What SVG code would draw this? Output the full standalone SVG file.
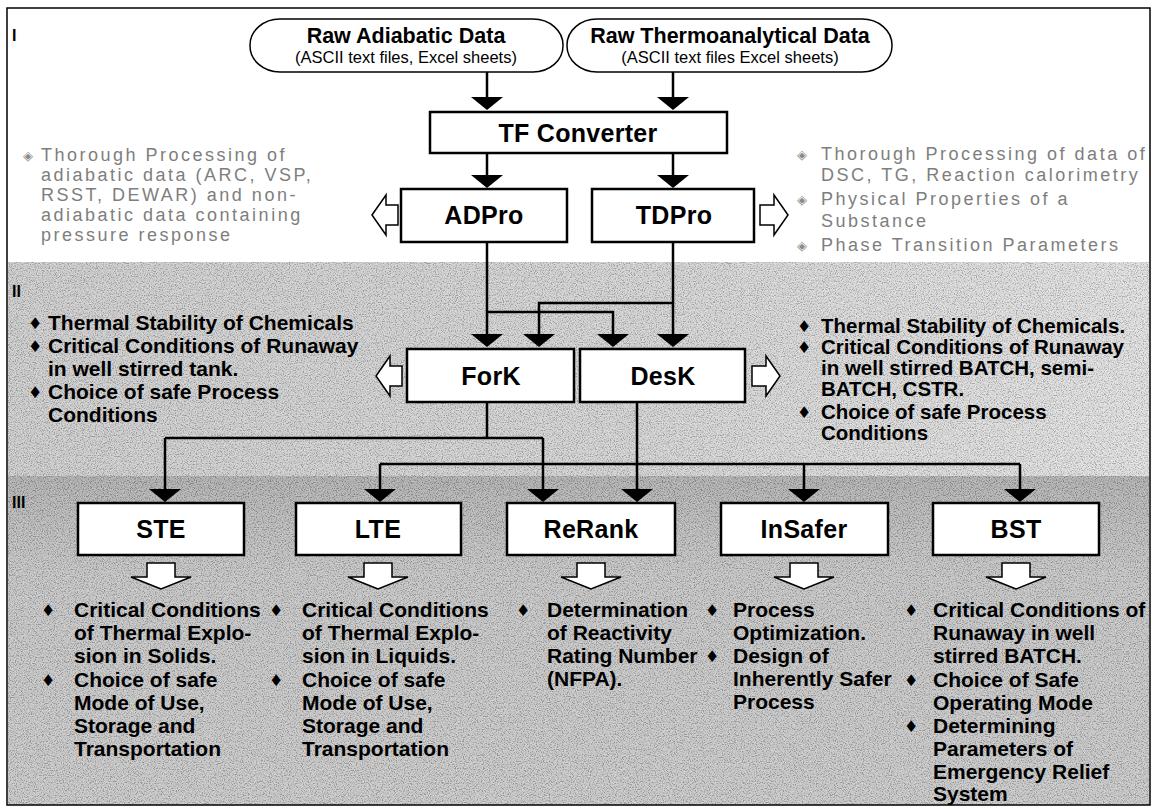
<svg xmlns="http://www.w3.org/2000/svg" xmlns:xlink="http://www.w3.org/1999/xlink" width="1157" height="809" viewBox="0 0 1157 809">
<style>
.node{font-family:"Liberation Sans",Arial,sans-serif;font-weight:bold;font-size:25px;letter-spacing:0.3px;text-anchor:middle;fill:#000}
.box{fill:#fff;stroke:#000;stroke-width:2.5}
.raw{fill:#fff;stroke:#000;stroke-width:1.5}
.rt{font-family:"Liberation Sans",Arial,sans-serif;font-weight:bold;font-size:21.5px;text-anchor:middle}
.rs{font-family:"Liberation Sans",Arial,sans-serif;font-size:16.5px;text-anchor:middle}
.g{font-family:"Liberation Sans",Arial,sans-serif;font-size:18px;letter-spacing:2.5px;fill:#7e7e7e}
.gb{font-family:"DejaVu Sans",sans-serif;font-size:13px;fill:#8a8a8a}
.b{font-family:"Liberation Sans",Arial,sans-serif;font-weight:bold;font-size:21px;fill:#000}
.br{font-family:"Liberation Sans",Arial,sans-serif;font-weight:bold;font-size:20.5px;fill:#000}
.bb{font-family:"DejaVu Sans",sans-serif;font-size:16px;fill:#000}
.lab{font-family:"Liberation Sans",Arial,sans-serif;font-weight:bold;font-size:16px}
.con{fill:none;stroke:#000;stroke-width:2.5}
.hol{fill:#fff;stroke:#000;stroke-width:1.5;stroke-linejoin:miter}
</style>
<defs>
<path id="ah" d="M0,0 L-16,-13 L16,-13 Z" fill="#000"/>
<path id="hl" d="M0,0 L14,-20 L14,-10 L26,-10 L26,10 L14,10 L14,20 Z"/>
<path id="hr" d="M0,0 L-14,-20 L-14,-10 L-28,-10 L-28,10 L-14,10 L-14,20 Z"/>
<path id="hd" d="M0,0 L-30,-12 L-14,-12 L-14,-26 L14,-26 L14,-12 L30,-12 Z"/>
<linearGradient id="g2" x1="0" y1="0" x2="1" y2="0">
<stop offset="0" stop-color="#cbcbcb"/><stop offset="0.55" stop-color="#d2d2d2"/><stop offset="1" stop-color="#e2e2e2"/>
</linearGradient>
<linearGradient id="g3" x1="0" y1="0" x2="0" y2="1">
<stop offset="0" stop-color="#a9a9a9"/><stop offset="0.1" stop-color="#b3b3b3"/><stop offset="0.3" stop-color="#c2c2c2"/><stop offset="1" stop-color="#c6c6c6"/>
</linearGradient>
<filter id="grain" x="0" y="0" width="1" height="1">
<feTurbulence type="fractalNoise" baseFrequency="0.85" numOctaves="2" seed="7"/>
<feColorMatrix type="matrix" values="3 0 0 0 -1  3 0 0 0 -1  3 0 0 0 -1  0 0 0 0 1"/>
</filter>
</defs>

<g id="background">
<rect x="0" y="0" width="1157" height="809" fill="#fff"/>
<rect x="8" y="262" width="1141" height="214" fill="url(#g2)"/>
<rect x="8" y="476" width="1141" height="329" fill="url(#g3)"/>
<rect x="8" y="262" width="1141" height="543" filter="url(#grain)" opacity="0.22"/>
<rect x="7" y="8" width="1143" height="797" fill="none" stroke="#000" stroke-width="1.5"/>
<text class="lab" x="12" y="41">I</text>
<text class="lab" x="12" y="297">II</text>
<text class="lab" x="12" y="508">III</text>
</g>

<g id="connectors">
<path class="con" d="M487,72 V98 M673,72 V98 M487,153 V176 M673,153 V176"/>
<path class="con" d="M487,242 V335 M487,312 H613 V335 M673,242 V335 M673,303 H539 V335"/>
<path class="con" d="M487,402 V438 M165,438 H543 M165,438 V490 M543,438 V490"/>
<path class="con" d="M637,402 V490 M380,464 H1020 M380,464 V490 M804,464 V490 M1020,464 V490"/>
<use xlink:href="#ah" x="487" y="110"/><use xlink:href="#ah" x="673" y="110"/>
<use xlink:href="#ah" x="487" y="188"/><use xlink:href="#ah" x="673" y="188"/>
<use xlink:href="#ah" x="487" y="347"/><use xlink:href="#ah" x="539" y="347"/>
<use xlink:href="#ah" x="613" y="347"/><use xlink:href="#ah" x="673" y="347"/>
<use xlink:href="#ah" x="165" y="502"/><use xlink:href="#ah" x="380" y="502"/>
<use xlink:href="#ah" x="543" y="502"/><use xlink:href="#ah" x="637" y="502"/>
<use xlink:href="#ah" x="804" y="502"/><use xlink:href="#ah" x="1020" y="502"/>
<use xlink:href="#hl" class="hol" x="372" y="215"/>
<use xlink:href="#hr" class="hol" x="788" y="215"/>
<use xlink:href="#hl" class="hol" x="376" y="376"/>
<use xlink:href="#hr" class="hol" x="780" y="376"/>
<use xlink:href="#hd" class="hol" x="161" y="589"/>
<use xlink:href="#hd" class="hol" x="378" y="589"/>
<use xlink:href="#hd" class="hol" x="591" y="589"/>
<use xlink:href="#hd" class="hol" x="804" y="589"/>
<use xlink:href="#hd" class="hol" x="1016" y="589"/>
</g>

<g id="raw-adiabatic">
<rect class="raw" x="250" y="19" width="313" height="53" rx="30" ry="26"/>
<text class="rt" x="406" y="43">Raw Adiabatic Data</text>
<text class="rs" x="406" y="63">(ASCII text files, Excel sheets)</text>
</g>
<g id="raw-thermo">
<rect class="raw" x="567" y="19" width="325" height="53" rx="30" ry="26"/>
<text class="rt" x="730" y="43">Raw Thermoanalytical Data</text>
<text class="rs" x="730" y="63">(ASCII text files Excel sheets)</text>
</g>
<g id="tf-converter"><rect class="box" x="430" y="112" width="297" height="41"/><text class="node" x="578" y="142">TF Converter</text></g>
<g id="adpro"><rect class="box" x="401" y="189" width="166" height="53"/><text class="node" x="484" y="224">ADPro</text></g>
<g id="tdpro"><rect class="box" x="592" y="189" width="162" height="53"/><text class="node" x="674" y="224">TDPro</text></g>
<g id="fork"><rect class="box" x="407" y="349" width="167" height="53"/><text class="node" x="491" y="385">ForK</text></g>
<g id="desk"><rect class="box" x="580" y="349" width="165" height="53"/><text class="node" x="663" y="385">DesK</text></g>
<g id="ste"><rect class="box" x="78" y="503" width="166" height="52"/><text class="node" x="161" y="538">STE</text></g>
<g id="lte"><rect class="box" x="296" y="503" width="165" height="52"/><text class="node" x="378" y="538">LTE</text></g>
<g id="rerank"><rect class="box" x="507" y="503" width="168" height="52"/><text class="node" x="591" y="538">ReRank</text></g>
<g id="insafer"><rect class="box" x="721" y="503" width="167" height="52"/><text class="node" x="804" y="538">InSafer</text></g>
<g id="bst"><rect class="box" x="933" y="503" width="166" height="52"/><text class="node" x="1016" y="538">BST</text></g>

<g id="notes-adpro">
<text class="gb" x="23" y="160">◈</text>
<text class="g" x="41" y="161">Thorough Processing of</text>
<text class="g" x="41" y="181">adiabatic data (ARC, VSP,</text>
<text class="g" x="41" y="201">RSST, DEWAR) and non-</text>
<text class="g" x="41" y="221">adiabatic data containing</text>
<text class="g" x="41" y="241">pressure response</text>
</g>
<g id="notes-tdpro">
<text class="gb" x="797" y="159">◈</text>
<text class="g" x="821" y="160">Thorough Processing of data of</text>
<text class="g" x="821" y="181">DSC, TG, Reaction calorimetry</text>
<text class="gb" x="797" y="204">◈</text>
<text class="g" x="821" y="205">Physical Properties of a</text>
<text class="g" x="821" y="227">Substance</text>
<text class="gb" x="797" y="250">◈</text>
<text class="g" x="821" y="251">Phase Transition Parameters</text>
</g>
<g id="notes-fork">
<text class="bb" x="28" y="329">♦</text><text class="b" x="48" y="330">Thermal Stability of Chemicals</text>
<text class="bb" x="28" y="352">♦</text><text class="b" x="48" y="353">Critical Conditions of Runaway</text>
<text class="b" x="48" y="376">in well stirred tank.</text>
<text class="bb" x="28" y="398">♦</text><text class="b" x="48" y="399">Choice of safe Process</text>
<text class="b" x="48" y="422">Conditions</text>
</g>
<g id="notes-desk">
<text class="bb" x="797" y="332">♦</text><text class="br" x="821" y="333">Thermal Stability of Chemicals.</text>
<text class="bb" x="797" y="353">♦</text><text class="br" x="821" y="354">Critical Conditions of Runaway</text>
<text class="br" x="821" y="375">in well stirred BATCH, semi-</text>
<text class="br" x="821" y="396">BATCH, CSTR.</text>
<text class="bb" x="797" y="418">♦</text><text class="br" x="821" y="419">Choice of safe Process</text>
<text class="br" x="821" y="440">Conditions</text>
</g>
<g id="notes-ste">
<text class="bb" x="41" y="616">♦</text><text class="b" x="74" y="617">Critical Conditions</text>
<text class="b" x="74" y="640">of Thermal Explo-</text>
<text class="b" x="74" y="663">sion in Solids.</text>
<text class="bb" x="41" y="686">♦</text><text class="b" x="74" y="687">Choice of safe</text>
<text class="b" x="74" y="710">Mode of Use,</text>
<text class="b" x="74" y="733">Storage and</text>
<text class="b" x="74" y="756">Transportation</text>
</g>
<g id="notes-lte">
<text class="bb" x="269" y="616">♦</text><text class="b" x="302" y="617">Critical Conditions</text>
<text class="b" x="302" y="640">of Thermal Explo-</text>
<text class="b" x="302" y="663">sion in Liquids.</text>
<text class="bb" x="269" y="686">♦</text><text class="b" x="302" y="687">Choice of safe</text>
<text class="b" x="302" y="710">Mode of Use,</text>
<text class="b" x="302" y="733">Storage and</text>
<text class="b" x="302" y="756">Transportation</text>
</g>
<g id="notes-rerank">
<text class="bb" x="516" y="616">♦</text><text class="b" x="547" y="617">Determination</text>
<text class="b" x="547" y="640">of Reactivity</text>
<text class="b" x="547" y="663">Rating Number</text>
<text class="b" x="547" y="686">(NFPA).</text>
</g>
<g id="notes-insafer">
<text class="bb" x="705" y="616">♦</text><text class="b" x="733" y="617">Process</text>
<text class="b" x="733" y="640">Optimization.</text>
<text class="bb" x="705" y="662">♦</text><text class="b" x="733" y="663">Design of</text>
<text class="b" x="733" y="686">Inherently Safer</text>
<text class="b" x="733" y="709">Process</text>
</g>
<g id="notes-bst">
<text class="bb" x="904" y="616">♦</text><text class="b" x="933" y="617">Critical Conditions of</text>
<text class="b" x="933" y="640">Runaway in well</text>
<text class="b" x="933" y="663">stirred BATCH.</text>
<text class="bb" x="904" y="686">♦</text><text class="b" x="933" y="687">Choice of Safe</text>
<text class="b" x="933" y="710">Operating Mode</text>
<text class="bb" x="904" y="732">♦</text><text class="b" x="933" y="733">Determining</text>
<text class="b" x="933" y="756">Parameters of</text>
<text class="b" x="933" y="779">Emergency Relief</text>
<text class="b" x="933" y="801">System</text>
</g>
</svg>
